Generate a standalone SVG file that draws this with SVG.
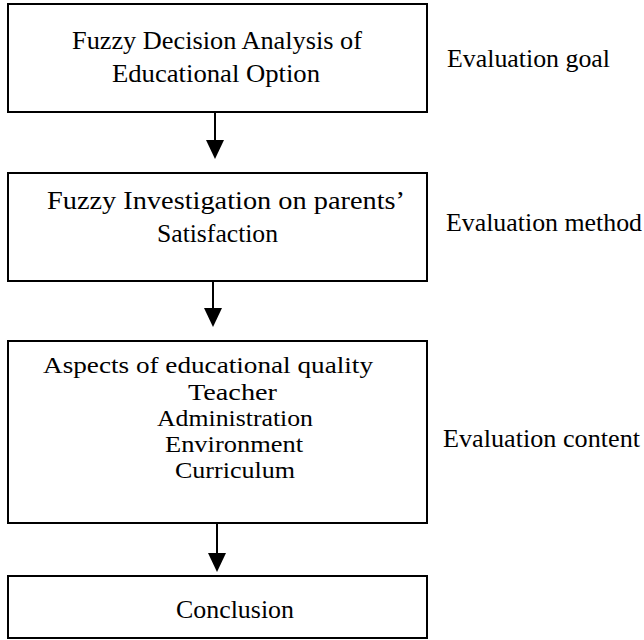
<svg xmlns="http://www.w3.org/2000/svg" width="644" height="640" viewBox="0 0 644 640">
<defs>
<style>
.box{fill:#fff;stroke:#000;stroke-width:2}
.t{font-family:"Liberation Serif","Times New Roman",serif;font-size:25px;fill:#000}
.s{font-size:23px}
.conn line{stroke:#000;stroke-width:2}
.conn polygon{fill:#000}
</style>
</defs>
<rect width="644" height="640" fill="#fff"/>
<g id="goal">
<rect class="box" x="8" y="4" width="419" height="108"/>
<text class="t" x="72" y="49" textLength="290" lengthAdjust="spacingAndGlyphs">Fuzzy Decision Analysis of</text>
<text class="t" x="112" y="82" textLength="208" lengthAdjust="spacingAndGlyphs">Educational Option</text>
</g>
<g id="method">
<rect class="box" x="8" y="173" width="419" height="108"/>
<text class="t" x="47" y="209" textLength="358" lengthAdjust="spacingAndGlyphs">Fuzzy Investigation on parents’</text>
<text class="t" x="157" y="242" textLength="121" lengthAdjust="spacingAndGlyphs">Satisfaction</text>
</g>
<g id="content">
<rect class="box" x="8" y="341" width="419" height="182"/>
<text class="t s" x="43" y="373" textLength="330" lengthAdjust="spacingAndGlyphs">Aspects of educational quality</text>
<text class="t s" x="188" y="400" textLength="89" lengthAdjust="spacingAndGlyphs">Teacher</text>
<text class="t s" x="157" y="426" textLength="156" lengthAdjust="spacingAndGlyphs">Administration</text>
<text class="t s" x="165" y="452" textLength="138" lengthAdjust="spacingAndGlyphs">Environment</text>
<text class="t s" x="175" y="478" textLength="120" lengthAdjust="spacingAndGlyphs">Curriculum</text>
</g>
<g id="conclusion">
<rect class="box" x="8" y="576" width="419" height="62"/>
<text class="t" x="176" y="618" textLength="118" lengthAdjust="spacingAndGlyphs">Conclusion</text>
</g>
<g id="labels">
<text class="t" x="447" y="67" textLength="163" lengthAdjust="spacingAndGlyphs">Evaluation goal</text>
<text class="t" x="446" y="231" textLength="196" lengthAdjust="spacingAndGlyphs">Evaluation method</text>
<text class="t" x="443" y="447" textLength="197" lengthAdjust="spacingAndGlyphs">Evaluation content</text>
</g>
<g id="connectors" class="conn">
<line x1="215" y1="113" x2="215" y2="142"/>
<polygon points="206,140 224,140 215,159"/>
<line x1="213" y1="282" x2="213" y2="310"/>
<polygon points="204,308 222,308 213,327"/>
<line x1="217" y1="524" x2="217" y2="555"/>
<polygon points="208,553 226,553 217,572"/>
</g>
</svg>
